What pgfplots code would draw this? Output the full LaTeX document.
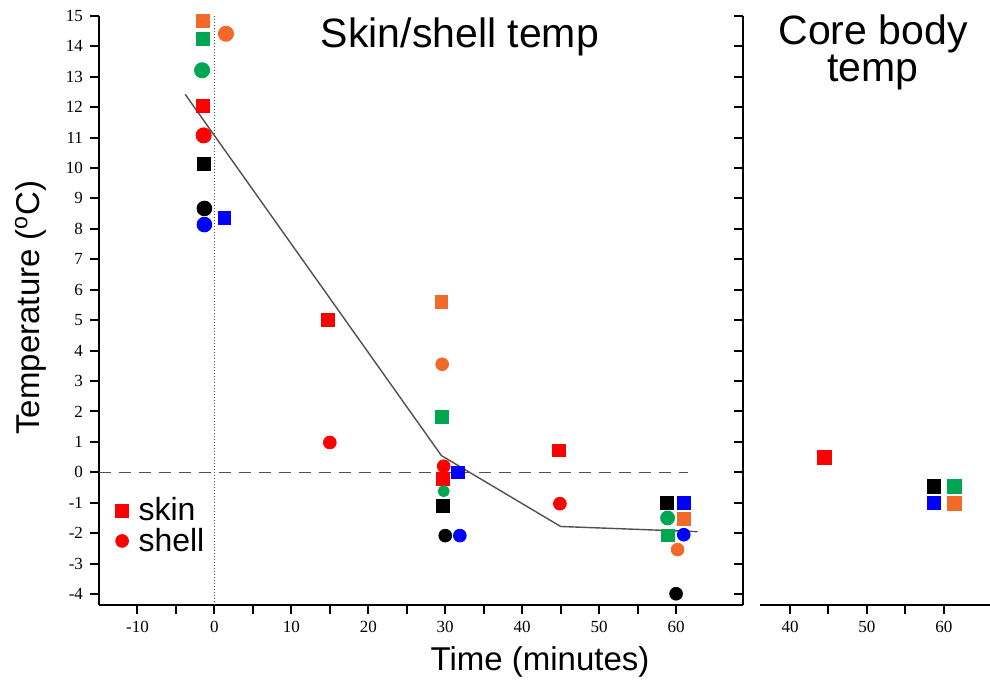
\documentclass[border=0pt]{standalone}
\usepackage{pgfplots}
\pgfplotsset{compat=1.18}
\usepackage{fontspec}
\setmainfont{Liberation Sans}
\newfontfamily\tickfont{Liberation Serif}

\definecolor{cred}{RGB}{255,0,0}
\definecolor{corange}{RGB}{242,106,42}
\definecolor{cgreen}{RGB}{0,166,81}
\definecolor{cblue}{RGB}{0,0,255}
\definecolor{cline}{RGB}{80,80,80}

\pgfplotsset{
  sq/.style={only marks, mark=square*, mark size=3.2pt, color=#1, mark options={draw=none, fill=#1}},
  ci/.style={only marks, mark=*, mark size=3.2pt, color=#1, mark options={draw=none, fill=#1}},
  panel/.style={
    scale only axis, height=294.6pt,
    ymin=-4.36, ymax=15,
    clip=false,
    major tick style={line width=1pt, black},
    major tick length=4.5pt,
    /pgf/number format/assume math mode=true,
    tick label style={font=\tickfont\fontsize{8.5}{10}\selectfont},
  },
  nolinearrows/.style={
    axis line style={line width=1pt},
    x axis line style={-},
    y axis line style={-},
  },
}

\begin{document}
\begin{tikzpicture}
% skin / shell panel
\begin{axis}[panel,
  at={(49.5pt,40pt)}, anchor=south west,
  width=322pt,
  xmin=-15, xmax=68.7,
  axis x line=bottom, axis y line=left,
  nolinearrows,
  tick align=outside,
  xtick={-10,-5,...,60},
  xticklabels={-10,,0,,10,,20,,30,,40,,50,,60},
  ytick={-4,-3,...,15},
  legend cell align=left,
  legend style={at={(0.016,0.193)}, anchor=north west, draw=none, fill=none,
    font=\fontsize{16}{16}\selectfont, row sep=0pt, column sep=4pt,
    nodes={inner sep=1pt}},
  legend image code/.code={\draw[#1] plot coordinates {(0pt,0pt)};},
]
\addplot[cline, densely dotted, line width=0.5pt, forget plot] coordinates {(0,-4.36) (0,15)};
\addplot[cline, dash pattern=on 6pt off 4pt, line width=0.7pt, forget plot] coordinates {(-15,0) (61.5,0)};
\addplot[cline, line width=0.7pt, forget plot] coordinates {(-3.8,12.42) (29.5,0.55) (45,-1.78) (62.8,-1.95)};

% skin (squares)
\addplot[sq=cred] coordinates {(-1.5,12.04) (14.7,5.0) (29.7,-0.22) (44.8,0.72)};
\addlegendentry{skin}
\addplot[sq=corange, forget plot] coordinates {(-1.5,14.82) (29.5,5.59) (61,-1.52)};
\addplot[sq=cgreen, forget plot] coordinates {(-1.5,14.23) (29.6,1.82) (58.9,-2.07)};
\addplot[sq=black, forget plot] coordinates {(-1.4,10.14) (29.7,-1.1) (58.8,-1.01)};
\addplot[sq=cblue, forget plot] coordinates {(1.3,8.37) (31.6,0.0) (61,-1.01)};

% shell (circles)
\addplot[ci=cred] coordinates {(15,0.98) (29.8,0.2) (44.9,-1.03)};
\addlegendentry{shell}
\addplot[ci=cred, mark size=3.8pt, forget plot] coordinates {(-1.4,11.07)};
\addplot[ci=corange, mark size=3.8pt, forget plot] coordinates {(1.5,14.41)};
\addplot[ci=corange, forget plot] coordinates {(29.6,3.55) (60.2,-2.54)};
\addplot[ci=cgreen, mark size=3.8pt, forget plot] coordinates {(-1.6,13.21)};
\addplot[ci=cgreen, mark size=2.8pt, forget plot] coordinates {(29.8,-0.62)};
\addplot[ci=cgreen, mark size=3.5pt, forget plot] coordinates {(58.9,-1.5)};
\addplot[ci=black, mark size=3.7pt, forget plot] coordinates {(-1.3,8.67)};
\addplot[ci=black, forget plot] coordinates {(30,-2.08) (60,-3.99)};
\addplot[ci=cblue, mark size=3.7pt, forget plot] coordinates {(-1.3,8.14)};
\addplot[ci=cblue, forget plot] coordinates {(31.9,-2.08) (61,-2.05)};
\end{axis}

% right-hand frame of the skin panel, ticks pointing inwards
\begin{axis}[panel,
  at={(49.5pt,40pt)}, anchor=south west,
  width=322pt,
  xmin=-15, xmax=68.7,
  axis x line=none, axis y line=right,
  nolinearrows,
  tick align=inside,
  ytick={-4,-3,...,15}, yticklabel={\relax},
]
\addplot[draw=none, forget plot] coordinates {(0,0)};
\end{axis}

% core body panel
\begin{axis}[panel,
  at={(380pt,40pt)}, anchor=south west,
  width=115pt,
  xmin=36.1, xmax=66,
  axis x line=bottom, axis y line=none,
  nolinearrows,
  tick align=outside,
  xtick={40,45,...,60},
  xticklabels={40,,50,,60},
]
\addplot[sq=cred, mark size=3.4pt] coordinates {(44.5,0.49)};
\addplot[sq=black, mark size=3.4pt] coordinates {(58.7,-0.46)};
\addplot[sq=cgreen, mark size=3.4pt] coordinates {(61.4,-0.46)};
\addplot[sq=cblue, mark size=3.4pt] coordinates {(58.7,-1.01)};
\addplot[sq=corange, mark size=3.4pt] coordinates {(61.4,-1.03)};
\end{axis}

\node[anchor=base, font=\fontsize{20.5}{20.5}\selectfont] at (230pt,318.5pt) {Skin/shell temp};
\node[anchor=base, align=center, font=\fontsize{20.5}{17.5}\selectfont] at (436.5pt,301.5pt) {Core body\\temp};
\node[anchor=base, rotate=90, font=\fontsize{16.5}{16.5}\selectfont] at (20pt,188.75pt) {Temperature (\textsuperscript{o}C)};
\node[anchor=base, font=\fontsize{16.5}{16.5}\selectfont] at (270pt,7pt) {Time (minutes)};

\pgfresetboundingbox
\path[use as bounding box] (0,0) rectangle (495pt,342.5pt);
\end{tikzpicture}
\end{document}
